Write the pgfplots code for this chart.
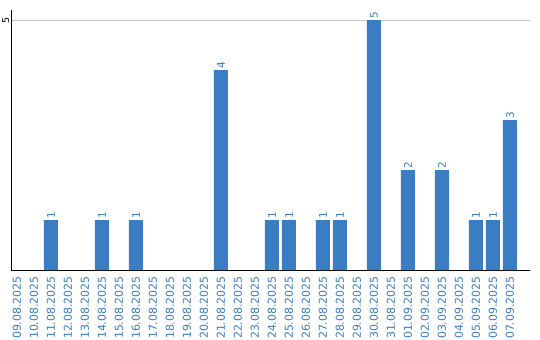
\documentclass[border=0pt]{standalone}
\usepackage{pgfplots}
\pgfplotsset{compat=1.18}
\usepackage{fontspec}
\setmainfont{DejaVu Sans}
\definecolor{barblue}{RGB}{59,125,195}
\begin{document}
\begin{tikzpicture}
\begin{axis}[
 scale only axis, width=519bp, height=260bp,
 xmin=-0.353, xmax=30.18, ymin=0, ymax=5.2,
 axis lines=left, axis line style={-, line width=1bp, black},
 xtick={0,...,29},
 xticklabels={09.08.2025,10.08.2025,11.08.2025,12.08.2025,13.08.2025,14.08.2025,15.08.2025,16.08.2025,17.08.2025,18.08.2025,19.08.2025,20.08.2025,21.08.2025,22.08.2025,23.08.2025,24.08.2025,25.08.2025,26.08.2025,27.08.2025,28.08.2025,29.08.2025,30.08.2025,31.08.2025,01.09.2025,02.09.2025,03.09.2025,04.09.2025,05.09.2025,06.09.2025,07.09.2025},
 x tick label style={rotate=90, anchor=east, font=\fontsize{11}{13}\selectfont, text=barblue, inner sep=1bp, xshift=-5bp},
 major tick length=0pt,
 ytick={5}, ymajorgrids, grid style={black!22, line width=1bp},
 y tick label style={rotate=90, font=\fontsize{9.5}{11}\selectfont, anchor=south, inner sep=1.5bp},
 /pgf/number format/assume math mode=true,
 ybar, bar width=14bp,
 nodes near coords,
 nodes near coords style={rotate=90, anchor=west, text=barblue, font=\fontsize{10.5}{12}\selectfont, inner sep=1bp},
]
\addplot[fill=barblue, draw=none] coordinates {
(2,1) (5,1) (7,1) (12,4) (15,1) (16,1) (18,1) (19,1) (21,5) (23,2) (25,2) (27,1) (28,1) (29,3)
};
\end{axis}
\pgfresetboundingbox
\path (-11bp,-70bp) rectangle (529bp,270bp);
\end{tikzpicture}
\end{document}
